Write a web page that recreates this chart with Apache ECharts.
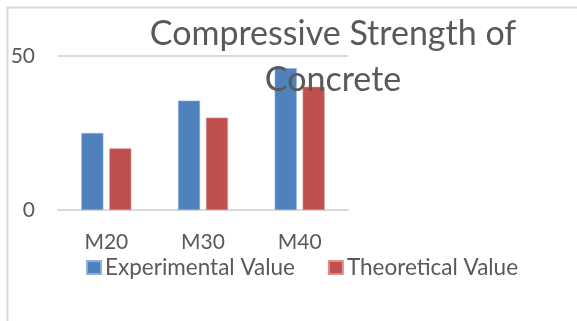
<!DOCTYPE html>
<html>
<head>
<meta charset="utf-8">
<style>
  html, body { margin: 0; padding: 0; background: #ffffff; }
  #chart { width: 577px; height: 321px; }
</style>
<script src="https://cdn.jsdelivr.net/npm/echarts@6/dist/echarts.min.js"></script>
</head>
<body>
<div id="chart"></div>
<script>
// Concrete grades on the x axis
const grades = ['M20', 'M30', 'M40'];
// Compressive strength per grade
const experimentalValue = [25, 35.5, 46];
const theoreticalValue = [20, 30, 40];
// Value axis ticks
const yTicks = [0, 50];

const FONT = 'Lato, "Open Sans", sans-serif';
const TEXT = '#595959';
const LINE = '#d9d9d9';

const chart = echarts.init(document.getElementById('chart'), null, { renderer: 'canvas' });

chart.setOption({
  animation: false,
  backgroundColor: '#ffffff',
  title: {
    text: 'Compressive Strength of\nConcrete',
    left: 333,
    top: 11,
    padding: 0,
    textAlign: 'center',
    textStyle: {
      fontFamily: FONT,
      fontWeight: 'normal',
      fontSize: 34,
      lineHeight: 46,
      color: TEXT
    },
    z: 10
  },
  legend: {
    left: 81,
    top: 251,
    itemWidth: 14,
    itemHeight: 13,
    itemGap: 33,
    icon: 'rect',
    textStyle: { fontFamily: FONT, fontSize: 22.5, color: TEXT, padding: [0, 0, 0, -1] },
    data: ['Experimental Value', 'Theoretical Value']
  },
  grid: { left: 58, right: 229, top: 56, bottom: 111, containLabel: false },
  xAxis: {
    type: 'category',
    data: grades,
    axisLine: { show: true, lineStyle: { color: LINE, width: 2 } },
    axisTick: { show: false },
    axisLabel: { fontFamily: FONT, fontSize: 21, color: TEXT, margin: 22 }
  },
  yAxis: {
    type: 'value',
    min: yTicks[0],
    max: yTicks[yTicks.length - 1],
    interval: yTicks[1] - yTicks[0],
    axisLine: { show: false },
    axisTick: { show: false },
    splitLine: { show: true, lineStyle: { color: LINE, width: 2 } },
    axisLabel: { fontFamily: FONT, fontSize: 21, color: TEXT, margin: 23 }
  },
  series: [
    {
      name: 'Experimental Value',
      type: 'bar',
      data: experimentalValue,
      barWidth: 22,
      barGap: '27%',
      itemStyle: { color: '#4f81bd', borderColor: '#8eaedb', borderWidth: 0.6 }
    },
    {
      name: 'Theoretical Value',
      type: 'bar',
      data: theoreticalValue,
      barWidth: 22,
      itemStyle: { color: '#c0504d', borderColor: '#dc8f8d', borderWidth: 0.6 }
    }
  ],
  graphic: [
    {
      type: 'polyline',
      shape: { points: [[7.5, 321], [7.5, 7.5], [577, 7.5]] },
      style: { stroke: LINE, lineWidth: 2, fill: null },
      silent: true
    }
  ]
});
</script>
</body>
</html>
